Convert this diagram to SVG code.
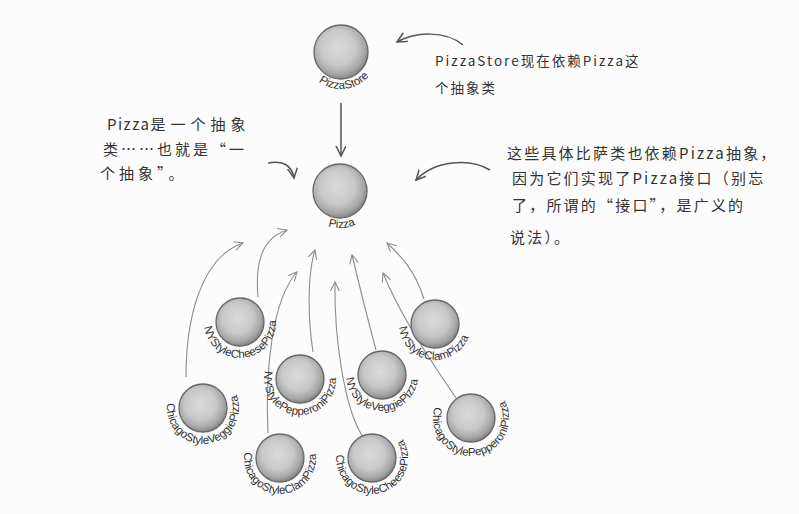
<svg xmlns="http://www.w3.org/2000/svg" width="799" height="514" viewBox="0 0 799 514">
<style>
.ball{fill:url(#sph);stroke:#666;stroke-width:1.3}
.lbl{font-family:"Liberation Sans",Arial,sans-serif;font-size:11.5px;fill:#333}
.note{font-family:"Noto Sans CJK SC","Liberation Sans",sans-serif;fill:#333}
.dep{fill:none;stroke:#8c8c8c;stroke-width:1.1;marker-end:url(#ag)}
.dk{fill:none;stroke:#555;stroke-width:1.5;marker-end:url(#ad)}
</style>
<defs>
<radialGradient id="sph" cx="45%" cy="42%" r="58%">
<stop offset="0" stop-color="#dadada"/>
<stop offset="0.55" stop-color="#c9c9c9"/>
<stop offset="0.85" stop-color="#a6a6a6"/>
<stop offset="1" stop-color="#848484"/>
</radialGradient>
<marker id="ag" markerWidth="10" markerHeight="10" refX="9" refY="4.5" orient="auto" markerUnits="userSpaceOnUse">
<path d="M0,0 L9,4.5 L0,9" fill="none" stroke="#8c8c8c" stroke-width="1.1"/>
</marker>
<marker id="ad" markerWidth="12" markerHeight="12" refX="10" refY="5" orient="auto" markerUnits="userSpaceOnUse">
<path d="M0,0 L10,5 L0,10" fill="none" stroke="#555" stroke-width="1.5"/>
</marker>
<path id="arc36" d="M-36,0 A36,36 0 1 0 -18,-31.18"/>
<path id="arc38" d="M-38,0 A38,38 0 1 0 -19,-32.91"/>
<path id="semi37" d="M-37,0 A37,37 0 0 0 37,0"/>
</defs>
<rect width="799" height="514" fill="#fcfcfc"/>

<g id="connectors">
<path class="dk" d="M463,45 C445,30 415,32 397,42"/>
<path class="dk" d="M341,103 L341,156"/>
<path class="dk" d="M268,163 C282,160 292,165 294,178"/>
<path class="dk" d="M490,170 C470,158 435,160 416,180"/>
<path class="dep" d="M186,377 C186,320 200,258 243,243"/>
<path class="dep" d="M258,297 C255,262 262,238 287,230"/>
<path class="dep" d="M313,352 C308,320 307,275 315,250"/>
<path class="dep" d="M268,433 C265,370 272,300 297,272"/>
<path class="dep" d="M363,437 C345,410 334,340 335,282"/>
<path class="dep" d="M376,350 C368,320 358,280 352,255"/>
<path class="dep" d="M456,398 C430,360 400,315 383,273"/>
<path class="dep" d="M424,299 C415,270 400,255 387,243"/>
</g>

<g id="PizzaStore">
<circle class="ball" cx="341" cy="52" r="27"/>
<text class="lbl" transform="translate(341,52) rotate(-6)"><textPath href="#semi37" startOffset="50%" text-anchor="middle">PizzaStore</textPath></text>
</g>
<g id="Pizza">
<circle class="ball" cx="340" cy="191" r="27"/>
<text class="lbl" transform="translate(340,191) rotate(-3)"><textPath href="#semi37" startOffset="50%" text-anchor="middle">Pizza</textPath></text>
</g>
<g id="NYStyleCheesePizza">
<circle class="ball" cx="240" cy="322" r="24"/>
<text class="lbl" transform="translate(240,322) rotate(-8)"><textPath href="#arc36">NYStyleCheesePizza</textPath></text>
</g>
<g id="NYStylePepperoniPizza">
<circle class="ball" cx="300" cy="379" r="24"/>
<text class="lbl" transform="translate(300,379) rotate(13)"><textPath href="#arc36">NYStylePepperoniPizza</textPath></text>
</g>
<g id="NYStyleVeggiePizza">
<circle class="ball" cx="382" cy="375" r="24"/>
<text class="lbl" transform="translate(382,375) rotate(-5)"><textPath href="#arc36">NYStyleVeggiePizza</textPath></text>
</g>
<g id="NYStyleClamPizza">
<circle class="ball" cx="435" cy="324" r="24"/>
<text class="lbl" transform="translate(435,324) rotate(-5)"><textPath href="#arc36">NYStyleClamPizza</textPath></text>
</g>
<g id="ChicagoStyleVeggiePizza">
<circle class="ball" cx="203" cy="408" r="24"/>
<text class="lbl" transform="translate(203,408) rotate(8)"><textPath href="#arc36">ChicagoStyleVeggiePizza</textPath></text>
</g>
<g id="ChicagoStyleClamPizza">
<circle class="ball" cx="280" cy="458" r="24"/>
<text class="lbl" transform="translate(280,458) rotate(9)"><textPath href="#arc36">ChicagoStyleClamPizza</textPath></text>
</g>
<g id="ChicagoStyleCheesePizza">
<circle class="ball" cx="372" cy="458" r="24"/>
<text class="lbl" transform="translate(372,458) rotate(5)"><textPath href="#arc36">ChicagoStyleCheesePizza</textPath></text>
</g>
<g id="ChicagoStylePepperoniPizza">
<circle class="ball" cx="471" cy="418" r="24"/>
<text class="lbl" transform="translate(471,418) rotate(17)"><textPath href="#arc38">ChicagoStylePepperoniPizza</textPath></text>
</g>

<g id="note-store" class="note" font-size="13.5" letter-spacing="2">
<text x="435" y="66">PizzaStore现在依赖Pizza这</text>
<text x="435" y="93">个抽象类</text>
</g>
<g id="note-pizza" class="note" font-size="15">
<text x="107" y="130"><tspan letter-spacing="1.5">Pizza</tspan><tspan letter-spacing="5">是一个抽象</tspan></text>
<text x="103" y="155" letter-spacing="3">类……也就是“一</text>
<text x="100" y="179" letter-spacing="4">个抽象”。</text>
</g>
<g id="note-concrete" class="note" font-size="15" letter-spacing="2.2">
<text x="507" y="159">这些具体比萨类也依赖Pizza抽象，</text>
<text x="512" y="184">因为它们实现了Pizza接口（别忘</text>
<text x="512" y="211">了，所谓的“接口”，是广义的</text>
<text x="510" y="243">说法）。</text>
</g>
</svg>
